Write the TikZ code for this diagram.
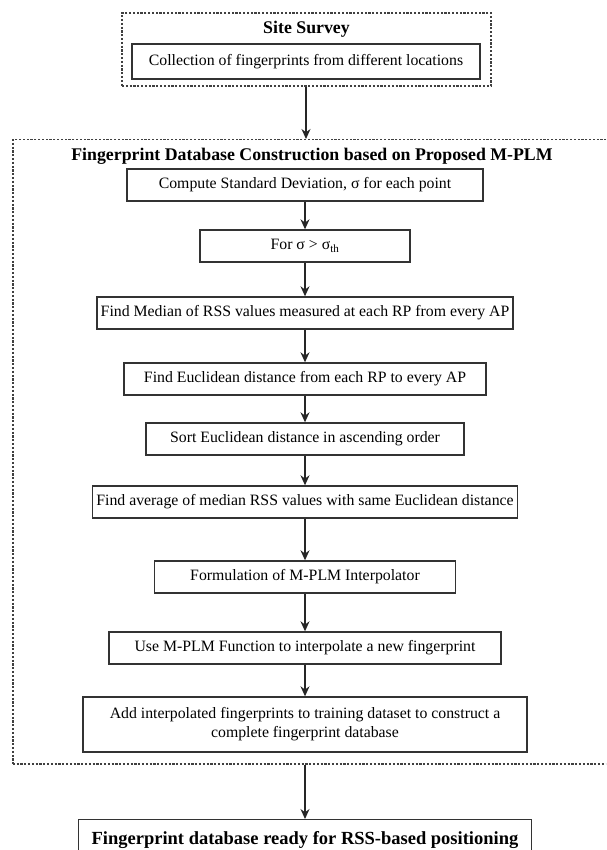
\documentclass[tikz,border=0pt]{standalone}
\usepackage{fontspec}
\setmainfont{Liberation Serif}
\usetikzlibrary{arrows.meta,positioning}

\tikzset{
  stepbox/.style={draw=black!80, line width=1.4pt, fill=white, minimum height=32pt,
    inner sep=2pt, align=center, font=\fontsize{15.8}{19}\selectfont},
  groupbox/.style={draw=black!75, line width=1.5pt, dash pattern=on 2.2pt off 1.6pt},
  heading/.style={font=\fontsize{17.8}{21}\selectfont\bfseries},
  flow/.style={-{Stealth[length=10pt,width=9pt]}, line width=1.2pt, black!85},
}

\begin{document}
\begin{tikzpicture}[x=1pt,y=-1pt]
  \useasboundingbox (0,0) rectangle (606,850);
  \clip (0,0) rectangle (606,850);
  \def\midX{305}

  % Site survey
  \node[groupbox, minimum width=369pt, minimum height=73pt] (survey) at (306.5,49.5) {};
  \node[heading] (surveyT) at (306.5,29) {Site Survey};
  \node[stepbox, minimum width=348pt, minimum height=35pt] (collect) at (306,61.5)
    {Collection of fingerprints from different locations};

  % Database construction block
  \node[groupbox, anchor=north west, minimum width=608pt, minimum height=624pt] (mplm) at (12,139) {};
  \node[heading] (mplmT) at (312,156) {Fingerprint Database Construction based on Proposed M-PLM};

  % Steps
  \node[stepbox, minimum width=356pt] (stdev) at (\midX,185) {Compute Standard Deviation, σ for each point};
  \node[stepbox, minimum width=210pt] (thresh) at (\midX,246) {For σ > σ\textsubscript{th}};
  \node[stepbox, minimum width=416pt] (median) at (\midX,313) {Find Median of RSS values measured at each RP from every AP};
  \node[stepbox, minimum width=362pt] (eucl) at (\midX,379) {Find Euclidean distance from each RP to every AP};
  \node[stepbox, minimum width=318pt] (sort) at (\midX,439) {Sort Euclidean distance in ascending order};
  \node[stepbox, minimum width=425pt] (avg) at (\midX,502) {Find average of median RSS values with same Euclidean distance};
  \node[stepbox, minimum width=301pt] (formul) at (\midX,577) {Formulation of M-PLM Interpolator};
  \node[stepbox, minimum width=392pt] (interp) at (\midX,648) {Use M-PLM Function to interpolate a new fingerprint};
  \node[stepbox, minimum width=444pt, minimum height=55pt] (add) at (\midX,724.5)
    {Add interpolated fingerprints to training dataset to construct a\\ complete fingerprint database};

  % Result
  \node[stepbox, font=\fontsize{18.5}{22}\selectfont\bfseries, minimum width=453pt, minimum height=40pt,
    anchor=north] (ready) at (\midX,819) {Fingerprint database ready for RSS-based positioning};

  % Arrows
  \draw[flow] (survey.south -| collect) -- (collect |- mplm.north);
  \draw[flow] (stdev) -- (thresh);
  \draw[flow] (thresh) -- (median);
  \draw[flow] (median) -- (eucl);
  \draw[flow] (eucl) -- (sort);
  \draw[flow] (sort) -- (avg);
  \draw[flow] (avg) -- (formul);
  \draw[flow] (formul) -- (interp);
  \draw[flow] (interp) -- (add);
  \draw[flow] (add |- mplm.south) -- (ready);
\end{tikzpicture}
\end{document}
